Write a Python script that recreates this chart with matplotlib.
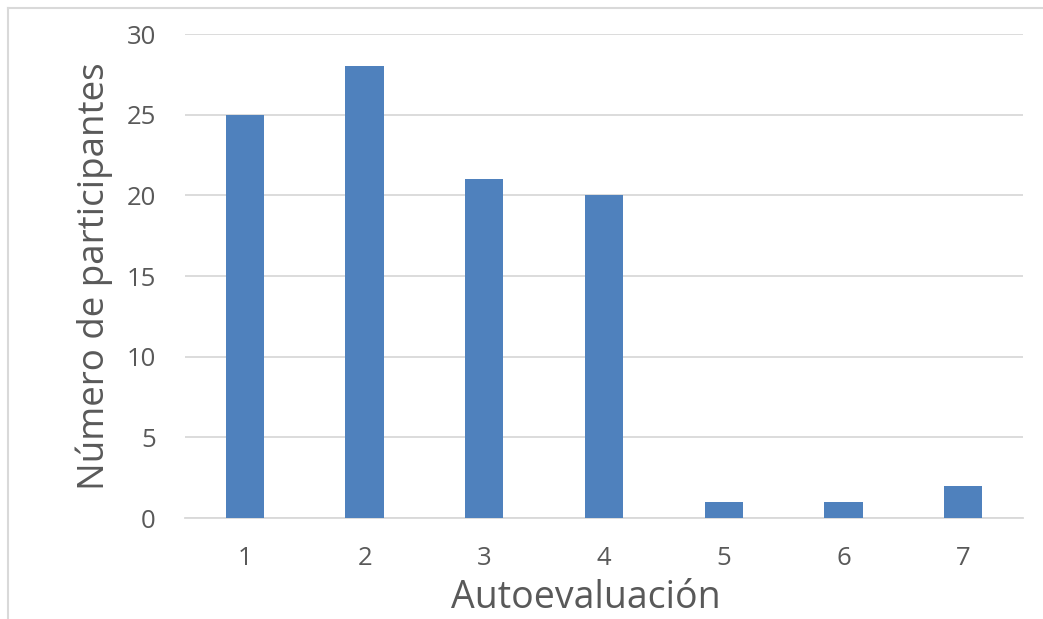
import matplotlib.pyplot as plt
from matplotlib.lines import Line2D

# data
categorias = ['1', '2', '3', '4', '5', '6', '7']
participantes = [25, 28, 21, 20, 1, 1, 2]

plt.rcParams['font.family'] = ['Open Sans', 'DejaVu Sans']
gris = '#595959'

fig = plt.figure(figsize=(10.43, 6.19), dpi=100)
ax = fig.add_axes([185/1043, 101/619, 838/1043, 484/619])

x = range(len(categorias))
ax.bar(x, participantes, width=0.32, color='#4F81BD', zorder=3)

ax.set_xlim(-0.5, 6.5)
ax.set_ylim(0, 30)
ax.set_yticks(range(0, 31, 5))
ax.set_xticks(list(x))
ax.set_xticklabels(categorias)
ax.yaxis.grid(True, color='#D9D9D9', linewidth=1.3, zorder=0)
for s in ['top', 'right', 'left']:
    ax.spines[s].set_visible(False)
ax.spines['bottom'].set_color('#D9D9D9')
ax.spines['bottom'].set_linewidth(1.3)
ax.tick_params(axis='both', length=0, labelsize=18.5, colors=gris)
ax.tick_params(axis='x', pad=20)
ax.tick_params(axis='y', pad=21)

ax.set_xlabel('Autoevaluación', fontsize=27, color=gris)
ax.xaxis.set_label_coords(0.478, -0.125)
ax.set_ylabel('Número de participantes', fontsize=26.5, color=gris)
ax.yaxis.set_label_coords(-0.086, 0.5)

# outer chart border
fig.add_artist(Line2D([8/1043, 8/1043], [0, 611/619], color='#D9D9D9', lw=1.5, transform=fig.transFigure))
fig.add_artist(Line2D([8/1043, 1], [611/619, 611/619], color='#D9D9D9', lw=1.5, transform=fig.transFigure))

fig.savefig('out.png', dpi=100, facecolor='white')
